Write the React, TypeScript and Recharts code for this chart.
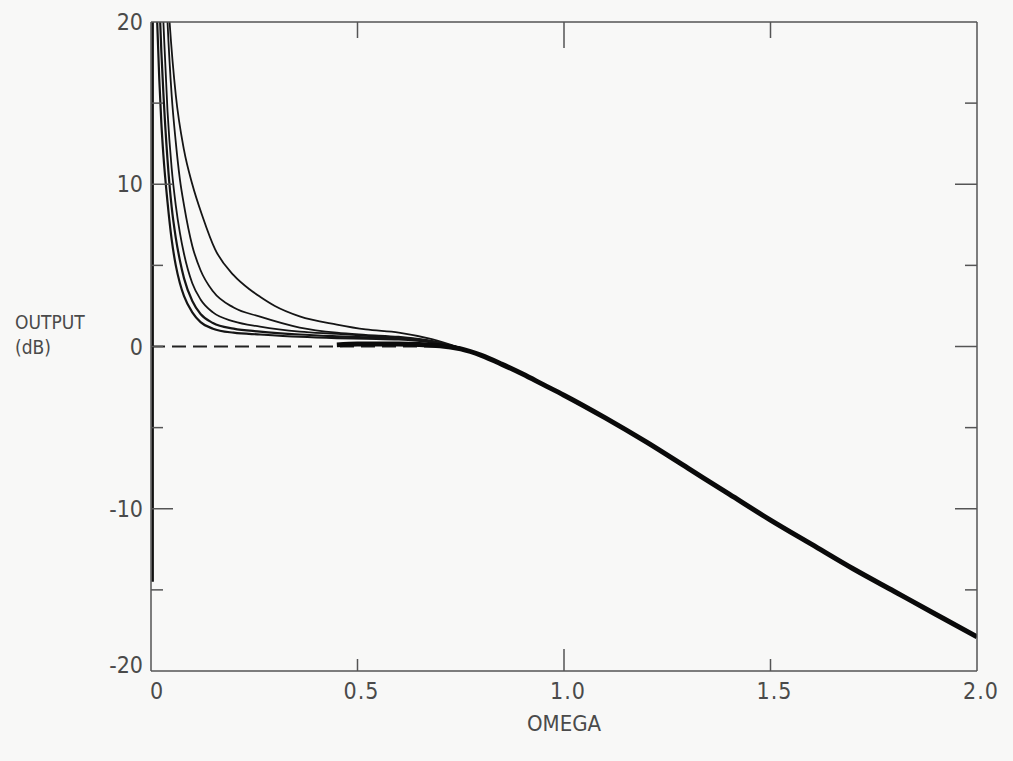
// @ts-nocheck
import { LineChart, Line, XAxis, YAxis } from 'recharts';

// omega / dB readings for each trace
const c1W = [0.015, 0.02, 0.025, 0.03, 0.04, 0.05, 0.06, 0.07, 0.08, 0.1, 0.12, 0.15, 0.2, 0.264, 0.36, 0.45, 0.52, 0.6, 0.68, 0.75];
const c1Db = [20, 16.5, 13.8, 11.8, 8.9, 6.6, 5.0, 3.9, 3.1, 2.1, 1.5, 1.1, 0.85, 0.74, 0.6, 0.52, 0.48, 0.43, 0.25, -0.1];

const c2W = [0.02, 0.025, 0.03, 0.04, 0.05, 0.06, 0.07, 0.08, 0.1, 0.12, 0.15, 0.2, 0.264, 0.36, 0.45, 0.52, 0.6, 0.68, 0.75];
const c2Db = [21.5, 18.2, 15.6, 11.5, 8.6, 6.7, 5.3, 4.2, 2.8, 2.0, 1.45, 1.1, 0.92, 0.74, 0.63, 0.56, 0.5, 0.3, -0.1];

const c3W = [0.025, 0.03, 0.04, 0.05, 0.06, 0.07, 0.08, 0.1, 0.12, 0.15, 0.2, 0.264, 0.36, 0.45, 0.52, 0.6, 0.68, 0.75];
const c3Db = [23, 20, 14.5, 11.0, 8.7, 7.0, 5.7, 3.9, 2.9, 2.1, 1.55, 1.23, 0.92, 0.78, 0.66, 0.55, 0.32, -0.1];

const c4W = [0.035, 0.04, 0.05, 0.06, 0.07, 0.08, 0.1, 0.12, 0.15, 0.2, 0.264, 0.36, 0.45, 0.52, 0.6, 0.68, 0.75];
const c4Db = [23, 20, 15.5, 12.6, 10.3, 8.7, 6.2, 4.7, 3.4, 2.4, 1.84, 1.17, 0.85, 0.72, 0.6, 0.35, -0.1];

const c5W = [0.04, 0.045, 0.06, 0.08, 0.1, 0.125, 0.155, 0.2, 0.24, 0.264, 0.3, 0.36, 0.45, 0.52, 0.6, 0.68, 0.75];
const c5Db = [22, 20, 15.5, 12.1, 10.0, 8.0, 6.0, 4.4, 3.5, 3.07, 2.5, 1.86, 1.35, 1.05, 0.86, 0.45, -0.1];

const mainW = [0.45, 0.5, 0.6, 0.7, 0.75, 0.8, 0.85, 0.9, 0.95, 1.0, 1.1, 1.2, 1.3, 1.4, 1.5, 1.6, 1.7, 1.8, 1.9, 2.0];
const mainDb = [0.1, 0.15, 0.15, 0.05, -0.15, -0.55, -1.1, -1.7, -2.35, -3.0, -4.4, -5.9, -7.5, -9.1, -10.7, -12.2, -13.7, -15.1, -16.5, -17.9];

const dashW = [0, 0.72];
const dashDb = [0, 0];

const edgeW = [0.004, 0.004];
const edgeDb = [20, -14.5];

const xTicks = [0, 0.5, 1, 1.5, 2];
const xTickLabels = ['0', '0.5', '1.0', '1.5', '2.0'];
const yTicks = [-20, -15, -10, -5, 0, 5, 10, 15, 20];

const pts = (w, db) => w.map((v, i) => ({ w: v, db: db[i] }));

const FONT = "'DejaVu Sans Condensed', 'Liberation Sans Narrow', sans-serif";
const TXT = '#4a4a4a';
const AX = '#555';

const tickLen = (v, major) => (Math.abs(v % major) < 1e-9 ? 22 : 12);

const BottomTick = ({ x, y, payload }) => {
  const v = payload.value;
  const i = xTicks.indexOf(v);
  const inner = v > 0 && v < 2;
  return (
    <g>
      {inner && <line x1={x} y1={y} x2={x} y2={y - tickLen(v, 1)} stroke={AX} strokeWidth={1.5} />}
      <text x={v === 0 ? x + 6 : x + 4} y={y + 28} textAnchor="middle" fontFamily={FONT} fontSize={23} fill={TXT} letterSpacing={1}>
        {xTickLabels[i]}
      </text>
    </g>
  );
};

const TopTick = ({ x, y, payload }) => {
  const v = payload.value;
  if (v <= 0 || v >= 2) return null;
  return <line x1={x} y1={y} x2={x} y2={y + tickLen(v, 1) + 4} stroke={AX} strokeWidth={1.5} />;
};

const LeftTick = ({ x, y, payload }) => {
  const v = payload.value;
  const inner = v > -20 && v < 20;
  return (
    <g>
      {inner && <line x1={x} y1={y} x2={x + (v === 0 ? 12 : tickLen(v, 10))} y2={y} stroke={AX} strokeWidth={1.5} />}
      {v % 10 === 0 && (
        <text x={x - 8} y={y + (v === -20 ? 2 : 8)} textAnchor="end" fontFamily={FONT} fontSize={23} fill={TXT}>
          {v}
        </text>
      )}
    </g>
  );
};

const RightTick = ({ x, y, payload }) => {
  const v = payload.value;
  if (v <= -20 || v >= 20) return null;
  return <line x1={x} y1={y} x2={x - (v === 0 ? 22 : tickLen(v, 10))} y2={y} stroke={AX} strokeWidth={1.5} />;
};

const curves = [
  [c1W, c1Db],
  [c2W, c2Db],
  [c3W, c3Db],
  [c4W, c4Db],
  [c5W, c5Db],
];

export default function App() {
  return (
    <div style={{ position: 'absolute', left: 0, top: 0, width: 1013, height: 761, background: '#f8f8f7' }}>
      <LineChart width={1013} height={761} margin={{ top: 21, right: 35, bottom: 60, left: 0 }}>
        <XAxis
          dataKey="w"
          type="number"
          domain={[0, 2]}
          ticks={xTicks}
          allowDataOverflow
          tickSize={0}
          tickMargin={0}
          height={30}
          axisLine={{ stroke: AX, strokeWidth: 1.5 }}
          tick={BottomTick}
          interval={0}
        />
        <XAxis
          xAxisId="top"
          orientation="top"
          dataKey="w"
          type="number"
          domain={[0, 2]}
          ticks={xTicks}
          allowDataOverflow
          tickSize={0}
          tickMargin={0}
          height={1}
          axisLine={{ stroke: AX, strokeWidth: 1.5 }}
          tick={TopTick}
          interval={0}
        />
        <YAxis
          dataKey="db"
          type="number"
          domain={[-20, 20]}
          ticks={yTicks}
          allowDataOverflow
          tickSize={0}
          tickMargin={0}
          width={151}
          axisLine={{ stroke: AX, strokeWidth: 1.5 }}
          tick={LeftTick}
          interval={0}
        />
        <YAxis
          yAxisId="right"
          orientation="right"
          dataKey="db"
          type="number"
          domain={[-20, 20]}
          ticks={yTicks}
          allowDataOverflow
          tickSize={0}
          tickMargin={0}
          width={1}
          axisLine={{ stroke: AX, strokeWidth: 1.5 }}
          tick={RightTick}
          interval={0}
        />
        {/* invisible series so the top and right frame axes get drawn */}
        <Line xAxisId="top" yAxisId="right" data={pts(dashW, dashDb)} dataKey="db" stroke="none" dot={false} isAnimationActive={false} />
        <Line data={pts(dashW, dashDb)} dataKey="db" type="linear" stroke="#222" strokeWidth={2} strokeDasharray="14 7" dot={false} isAnimationActive={false} />
        <Line data={pts(edgeW, edgeDb)} dataKey="db" type="linear" stroke="#111" strokeWidth={2.5} dot={false} isAnimationActive={false} />
        {curves.map(([w, db], i) => (
          <Line key={i} data={pts(w, db)} dataKey="db" type="monotone" stroke="#151515" strokeWidth={i < 2 ? 2.2 : 1.8} dot={false} isAnimationActive={false} />
        ))}
        <Line data={pts(mainW, mainDb)} dataKey="db" type="monotone" stroke="#0a0a0a" strokeWidth={5} dot={false} isAnimationActive={false} />
      </LineChart>
      <div style={{ position: 'absolute', left: 15, top: 310, fontFamily: FONT, fontSize: 19, color: TXT, lineHeight: '25px' }}>
        OUTPUT
        <br />
        (dB)
      </div>
      <div style={{ position: 'absolute', left: 527, top: 711, fontFamily: FONT, fontSize: 22, color: TXT }}>OMEGA</div>
    </div>
  );
}
